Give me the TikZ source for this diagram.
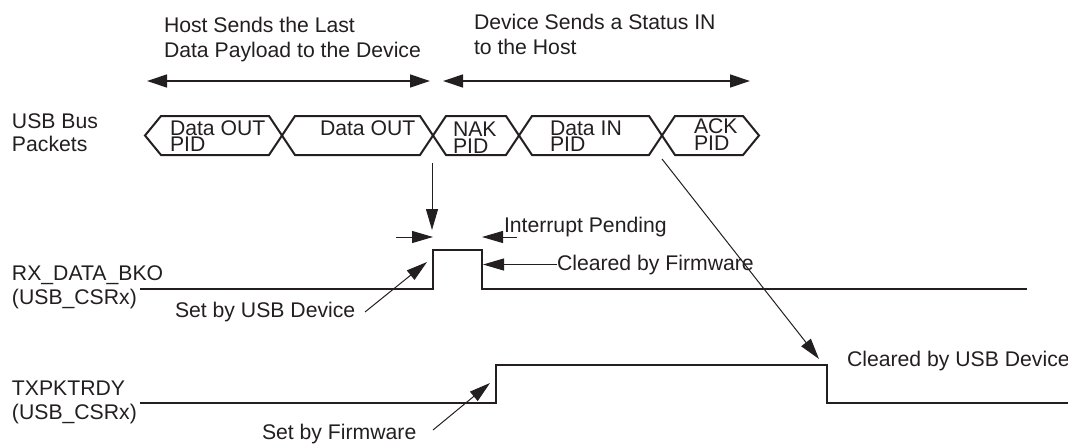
\documentclass[tikz,border=0pt]{standalone}
\usepackage{fontspec}
\setmainfont{Liberation Sans}
\usetikzlibrary{arrows.meta}
\definecolor{ink}{RGB}{35,31,32}
\newcommand\tworow[3]{\vtop{\baselineskip=#1\lineskiplimit=-100pt\hbox{#2}\hbox{#3}}}
\begin{document}
\begin{tikzpicture}[x=1pt,y=-1pt,
  every node/.style={inner sep=0pt, outer sep=0pt, anchor=base west, text=ink,
    font=\fontsize{21.2}{25}\selectfont},
  sig/.style={draw=ink, line width=2.2pt, line join=miter},
  pkt/.style={draw=ink, line width=2pt, line join=miter},
  thin/.style={draw=ink, line width=1pt, -{Triangle[length=21pt,width=12pt]}},
  span/.style={draw=ink, line width=1.3pt,
    {Triangle[length=20pt,width=13pt]}-{Triangle[length=20pt,width=13pt]}}]
\useasboundingbox (0,0) rectangle (1068,444);

% headings
\node (hdr1) at (164,33) {\tworow{25pt}{Host Sends the Last}{Data Payload to the Device}};
\node (hdr2) at (474,30) {\tworow{25pt}{Device Sends a Status IN}{to the Host}};
\coordinate (a1l) at (147,81);
\coordinate (a1r) at (430,81);
\coordinate (a2l) at (443,81);
\coordinate (a2r) at (750,81);
\draw[span] (a1l) -- (a1r);
\draw[span] (a2l) -- (a2r);

% bus packets
\node (busl) at (12,128) {\tworow{24pt}{USB Bus}{Packets}};
\draw[pkt] (145,135.5) -- (161,116) -- (269,116) -- (282,135.5) -- (269,155) -- (161,155) -- cycle;
\draw[pkt] (282,135.5) -- (295,116) -- (420,116) -- (433,135.5) -- (420,155) -- (295,155) -- cycle;
\draw[pkt] (433,135.5) -- (446,116) -- (506,116) -- (519,135.5) -- (506,155) -- (446,155) -- cycle;
\draw[pkt] (519,135.5) -- (532,116) -- (649,116) -- (662,135.5) -- (649,155) -- (532,155) -- cycle;
\draw[pkt] (662,135.5) -- (675,116) -- (743,116) -- (759,135.5) -- (743,155) -- (675,155) -- cycle;
\node (p1t) at (170,135) {\tworow{17pt}{Data OUT}{PID}};
\node (p2t) at (320,135) {Data OUT};
\node (p3t) at (453,136) {\tworow{17pt}{NAK}{PID}};
\node (p4t) at (550,135) {\tworow{17pt}{Data IN}{PID}};
\node (p5t) at (694,133) {\tworow{17pt}{ACK}{PID}};

% signal labels
\node (rxl) at (12,280) {\tworow{24pt}{RX\_DATA\_BKO}{(USB\_CSRx)}};
\node (txl) at (12,395) {\tworow{24pt}{TXPKTRDY}{(USB\_CSRx)}};

% signals
\draw[sig] (140,289) -- (433,289) -- (433,250) -- (482,250) -- (482,289) -- (1027,289);
\draw[sig] (140,403) -- (496,403) -- (496,365) -- (827,365) -- (827,403) -- (1068,403);

% vertical arrow from packet boundary
\coordinate (va0) at (432,163);
\coordinate (va1) at (432,230);
\draw[thin] (va0) -- (va1);

% interrupt pending
\node (ip) at (504,232) {Interrupt Pending};
\coordinate (ipl0) at (396,237);
\coordinate (ipl1) at (433,237);
\coordinate (ipr0) at (517,237);
\coordinate (ipr1) at (482,237);
\draw[thin] (ipl0) -- (ipl1);
\draw[thin] (ipr0) -- (ipr1);

% cleared by firmware
\node (cbf) at (557,270) {Cleared by Firmware};
\coordinate (cbft) at (483,263);
\draw[thin] (cbf.west) -- (cbft |- cbf.west);

% set by usb device
\node (sud) at (175,317) {Set by USB Device};
\coordinate (sud0) at (365,312);
\coordinate (sud1) at (427,262);
\draw[thin] (sud0) -- (sud1);

% set by firmware
\node (sfw) at (262,439) {Set by Firmware};
\coordinate (sfw0) at (433,430);
\coordinate (sfw1) at (490,383);
\draw[thin] (sfw0) -- (sfw1);

% cleared by usb device
\node (cud) at (847,366) {Cleared by USB Device};
\coordinate (cud0) at (662,159);
\coordinate (cud1) at (819,359);
\draw[thin] (cud0) -- (cud1);
\end{tikzpicture}
\end{document}
